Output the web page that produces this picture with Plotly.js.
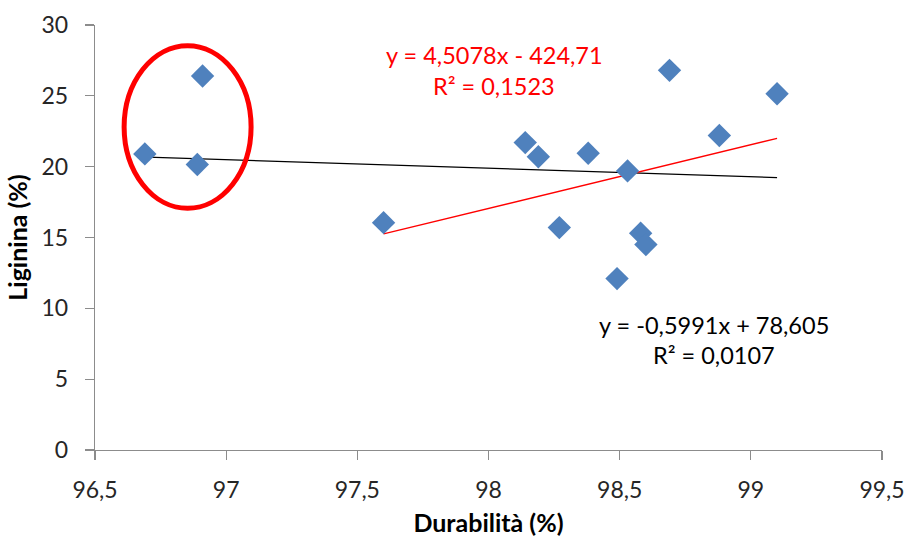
<!DOCTYPE html>
<html>
<head>
<meta charset="utf-8">
<script src="https://cdn.plot.ly/plotly-3.0.1.min.js"></script>
<style>html,body{margin:0;padding:0;background:#fff;}#chart{width:904px;height:538px;}</style>
</head>
<body>
<div id="chart"></div>
<script>
// Data
const durabilita = [96.69, 96.91, 96.89, 97.6, 98.14, 98.19, 98.27, 98.38, 98.53, 98.49, 98.58, 98.6, 98.69, 98.88, 99.1];
const lignina    = [20.9, 26.4, 20.15, 16.05, 21.7, 20.7, 15.7, 20.95, 19.7, 12.1, 15.3, 14.5, 26.8, 22.2, 25.15];

// Trend line end points (all points: black; excluding circled: red)
const trendAllX = [96.7, 99.1];
const trendAllY = [20.67, 19.23];
const trendSubX = [97.6, 99.1];
const trendSubY = [15.25, 22.0];

const xTicks = [96.5, 97, 97.5, 98, 98.5, 99, 99.5];
const xTickText = ['96,5', '97', '97,5', '98', '98,5', '99', '99,5'];
const yTicks = [0, 5, 10, 15, 20, 25, 30];

const eqRed = ['y = 4,5078x - 424,71', 'R² = 0,1523'];
const eqBlack = ['y = -0,5991x + 78,605', 'R² = 0,0107'];

// circled group outline (data coords)
const ellipse = {x0: 96.611, x1: 97.095, y0: 17.06, y1: 28.54};

const font = 'Lato, "Open Sans", sans-serif';

const traces = [
  {x: trendAllX, y: trendAllY, mode: 'lines', line: {color: '#000000', width: 1.3}, hoverinfo: 'skip', showlegend: false},
  {x: trendSubX, y: trendSubY, mode: 'lines', line: {color: '#FF0000', width: 1.3}, hoverinfo: 'skip', showlegend: false},
  {x: durabilita, y: lignina, mode: 'markers', type: 'scatter',
   marker: {symbol: 'diamond', size: 18, color: '#4F81BD', line: {width: 0}}, showlegend: false}
];

const layout = {
  width: 904, height: 538,
  margin: {l: 95, r: 22, t: 25, b: 88},
  paper_bgcolor: '#ffffff', plot_bgcolor: '#ffffff',
  font: {family: font, size: 23, color: '#262626'},
  showlegend: false,
  xaxis: {
    range: [96.5, 99.5], tickvals: xTicks, ticktext: xTickText,
    showgrid: false, zeroline: false, showline: true, linecolor: '#8c8c8c', linewidth: 1.3,
    ticks: 'outside', ticklen: 9, tickcolor: '#8c8c8c', tickwidth: 1.3, ticklabeloverflow: 'allow',
    ticklabelstandoff: 10,
    tickfont: {family: font, size: 23, color: '#262626'},
    title: {text: 'Durabilità (%)', font: {family: font, size: 25, color: '#000000', weight: 'bold'}, standoff: 12}
  },
  yaxis: {
    range: [0, 30], tickvals: yTicks,
    showgrid: false, zeroline: false, showline: true, linecolor: '#8c8c8c', linewidth: 1.3,
    ticks: 'outside', ticklen: 9, tickcolor: '#8c8c8c', tickwidth: 1.3, ticklabelstandoff: 12,
    tickfont: {family: font, size: 23, color: '#262626'},
    title: {text: 'Liginina (%)', font: {family: font, size: 25, color: '#000000', weight: 'bold'}, standoff: 6}
  },
  shapes: [
    {type: 'circle', xref: 'x', yref: 'y', x0: ellipse.x0, x1: ellipse.x1, y0: ellipse.y0, y1: ellipse.y1,
     line: {color: '#FF0000', width: 5}}
  ],
  annotations: [
    {xref: 'paper', yref: 'paper', x: (494-95)/787, y: 1-(55-25)/425, text: eqRed[0], showarrow: false,
     font: {family: font, size: 23.5, color: '#FF0000'}, xanchor: 'center', yanchor: 'middle'},
    {xref: 'paper', yref: 'paper', x: (494-95)/787, y: 1-(86-25)/425, text: eqRed[1], showarrow: false,
     font: {family: font, size: 23.5, color: '#FF0000'}, xanchor: 'center', yanchor: 'middle'},
    {xref: 'paper', yref: 'paper', x: (714-95)/787, y: 1-(325-25)/425, text: eqBlack[0], showarrow: false,
     font: {family: font, size: 23.5, color: '#000000'}, xanchor: 'center', yanchor: 'middle'},
    {xref: 'paper', yref: 'paper', x: (714-95)/787, y: 1-(355-25)/425, text: eqBlack[1], showarrow: false,
     font: {family: font, size: 23.5, color: '#000000'}, xanchor: 'center', yanchor: 'middle'}
  ]
};

Plotly.newPlot('chart', traces, layout, {displayModeBar: false, staticPlot: true});
</script>
</body>
</html>
